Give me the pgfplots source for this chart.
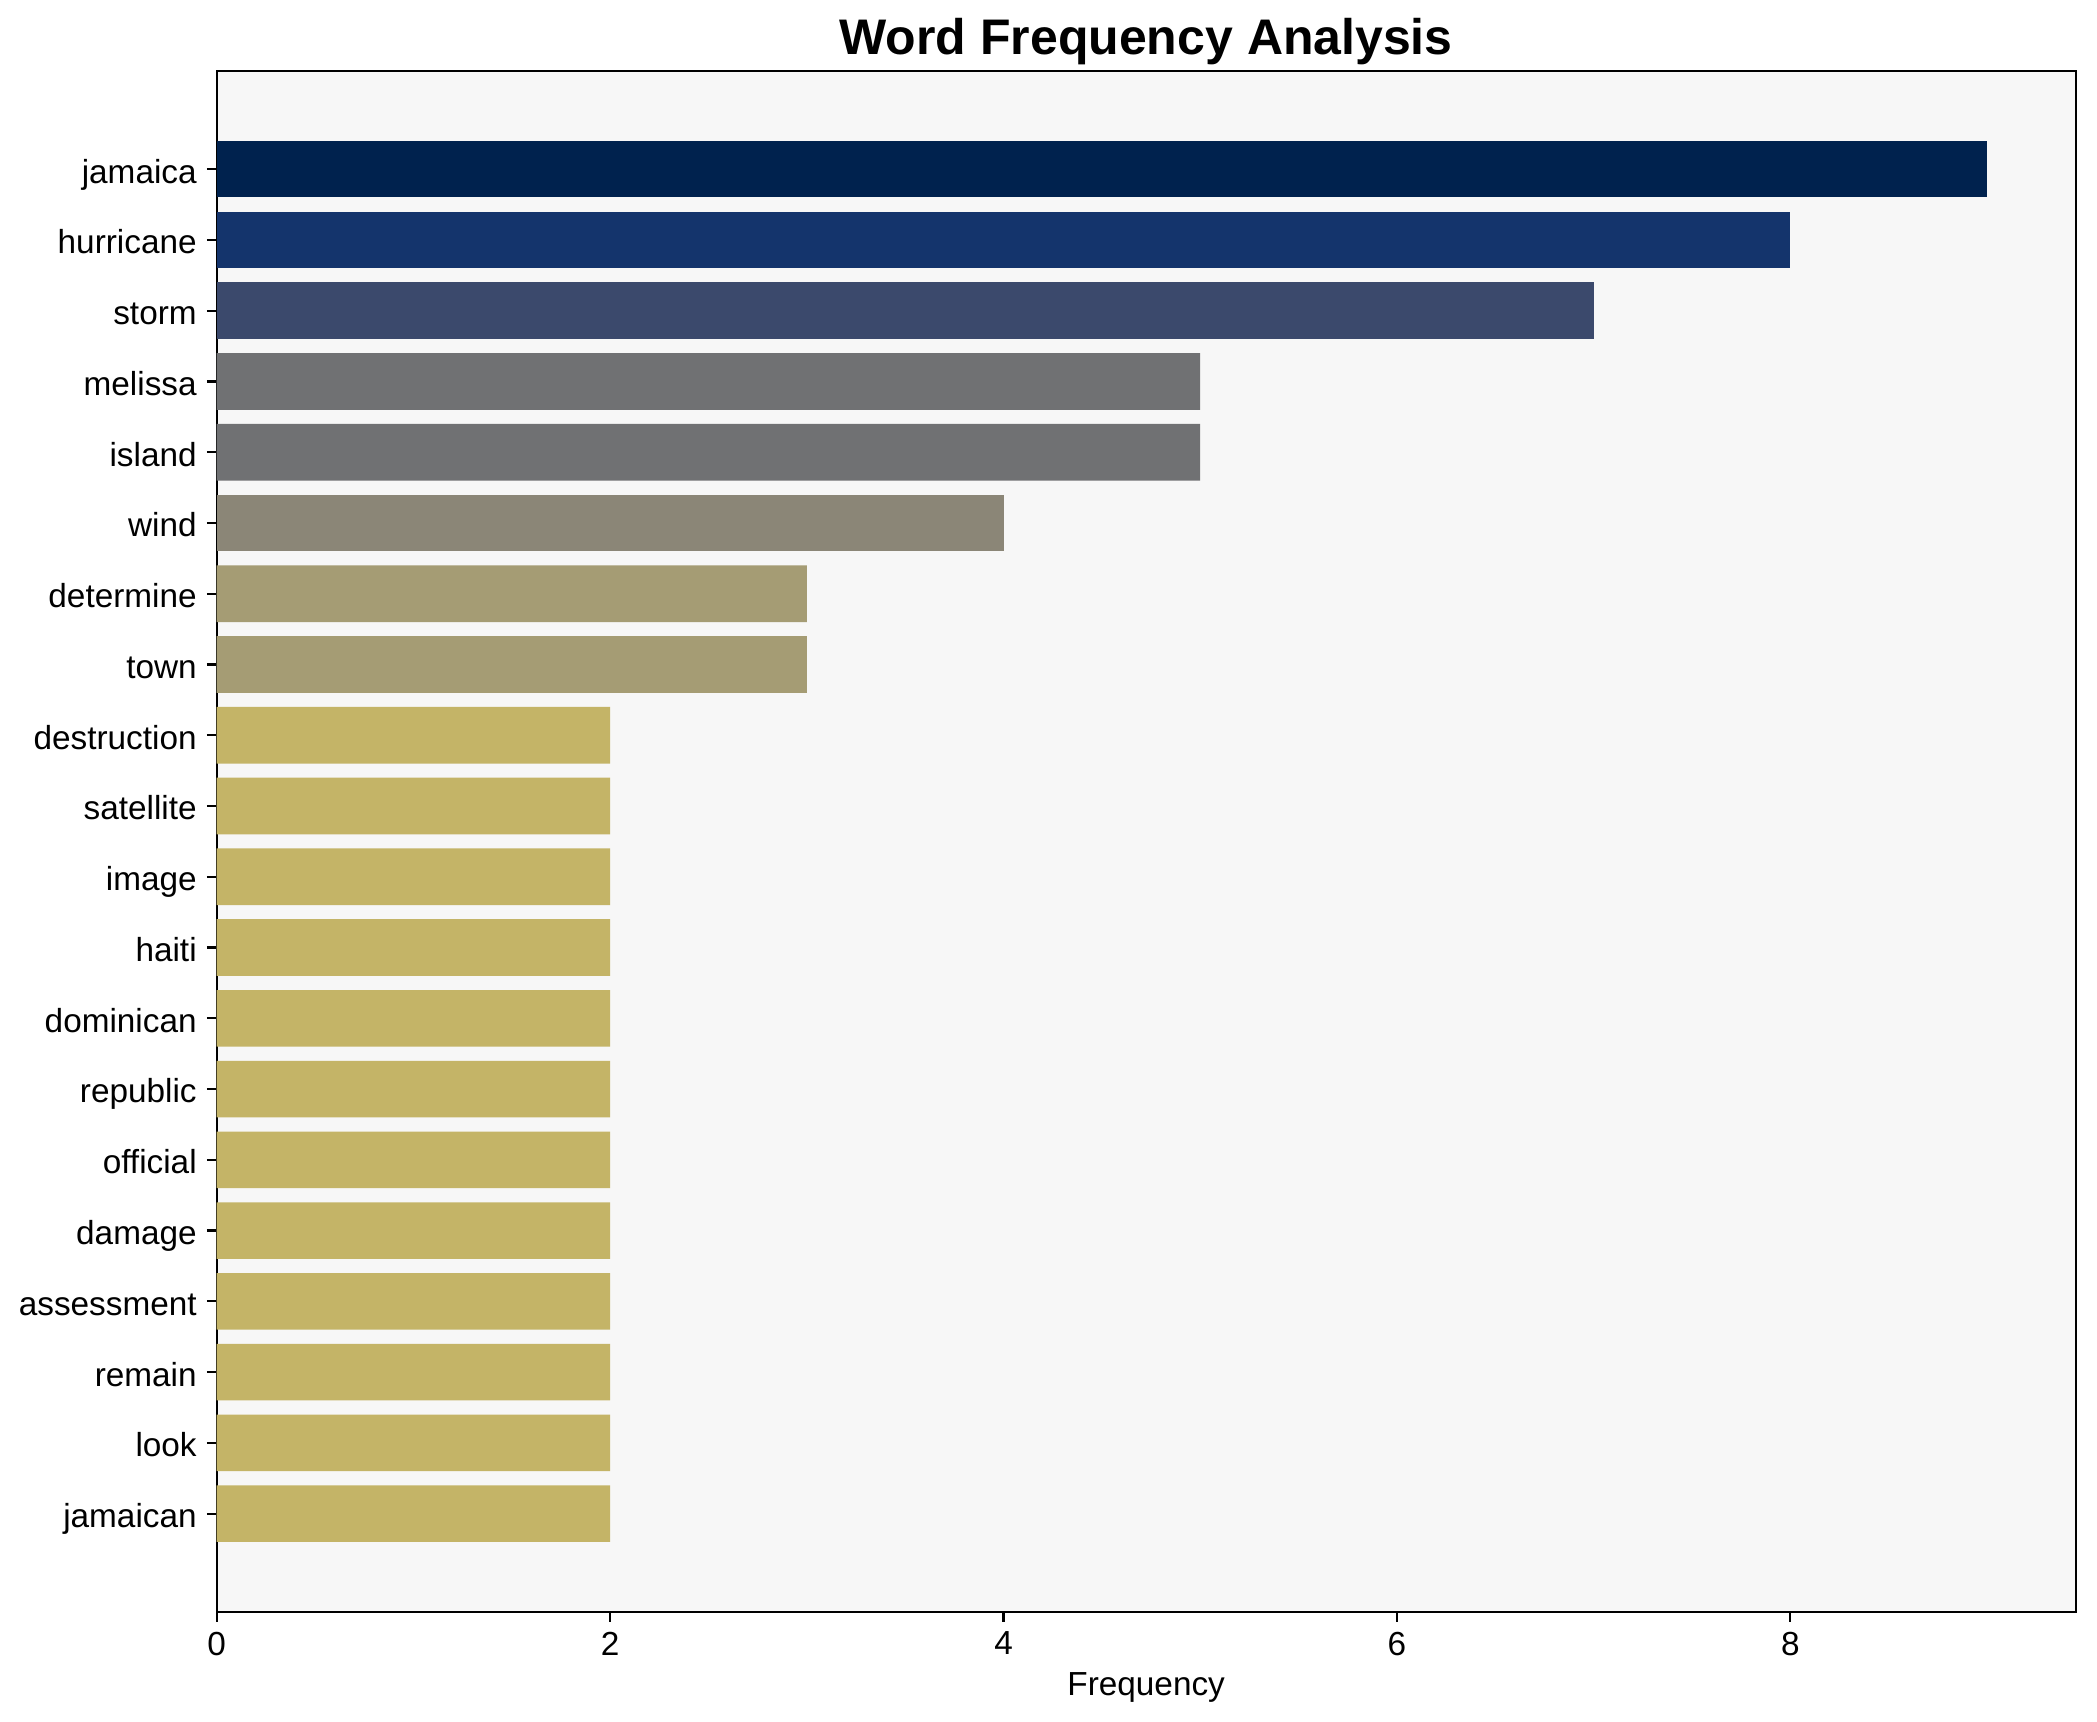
\documentclass[border=0pt]{standalone}
\usepackage{fontspec}
\setmainfont{Liberation Sans}
\usepackage{pgfplots}
\pgfplotsset{compat=1.18}

\definecolor{bgc}{HTML}{F7F7F7}
\definecolor{c9}{HTML}{00224E}
\definecolor{c8}{HTML}{14346C}
\definecolor{c7}{HTML}{3B496C}
\definecolor{c5}{HTML}{707173}
\definecolor{c4}{HTML}{8B8677}
\definecolor{c3}{HTML}{A59C74}
\definecolor{c2}{HTML}{C4B467}

\begin{document}
\begin{tikzpicture}
\begin{axis}[
    at={(0,0)}, anchor=south west,
    scale only axis,
    width=669.2pt, height=554.8pt,
    xmin=0, xmax=9.45,
    ymin=-1.39, ymax=20.39,
    y dir=reverse,
    axis background/.style={fill=bgc},
    axis line style={black, line width=0.8pt},
    xtick={0,2,4,6,8},
    ytick={0,...,19},
    yticklabels={jamaica,hurricane,storm,melissa,island,wind,determine,town,destruction,satellite,image,haiti,dominican,republic,official,damage,assessment,remain,look,jamaican},
    xtick pos=bottom, ytick pos=left,
    tick align=outside,
    major tick length=3.5pt,
    tick style={black, line width=0.8pt},
    /pgf/number format/assume math mode=true,
    ticklabel style={font=\fontsize{12}{14}\selectfont, inner sep=0pt},
    xticklabel style={anchor=north, yshift=-3.5pt},
    yticklabel style={anchor=base east, xshift=-3.5pt, yshift=-5pt},
    xlabel={Frequency},
    xlabel style={font=\fontsize{12}{14}\selectfont, inner sep=0pt, at={(axis description cs:0.5,0)}, anchor=base, yshift=-30pt},
    title={Word Frequency Analysis},
    every axis title shift=0pt,
    title style={font=\fontsize{18}{21}\selectfont\bfseries, inner sep=0pt, at={(axis description cs:0.5,1)}, anchor=base, yshift=6pt},
]
\addplot[xbar, bar shift=0pt, bar width=0.8, draw=none, fill=c9] coordinates {(9,0)};
\addplot[xbar, bar shift=0pt, bar width=0.8, draw=none, fill=c8] coordinates {(8,1)};
\addplot[xbar, bar shift=0pt, bar width=0.8, draw=none, fill=c7] coordinates {(7,2)};
\addplot[xbar, bar shift=0pt, bar width=0.8, draw=none, fill=c5] coordinates {(5,3) (5,4)};
\addplot[xbar, bar shift=0pt, bar width=0.8, draw=none, fill=c4] coordinates {(4,5)};
\addplot[xbar, bar shift=0pt, bar width=0.8, draw=none, fill=c3] coordinates {(3,6) (3,7)};
\addplot[xbar, bar shift=0pt, bar width=0.8, draw=none, fill=c2] coordinates {
  (2,8) (2,9) (2,10) (2,11) (2,12) (2,13) (2,14) (2,15) (2,16) (2,17) (2,18) (2,19)};
\end{axis}
\pgfresetboundingbox
\useasboundingbox (-78pt,-39.6pt) rectangle (676.9pt,580.3pt);
\end{tikzpicture}
\end{document}
